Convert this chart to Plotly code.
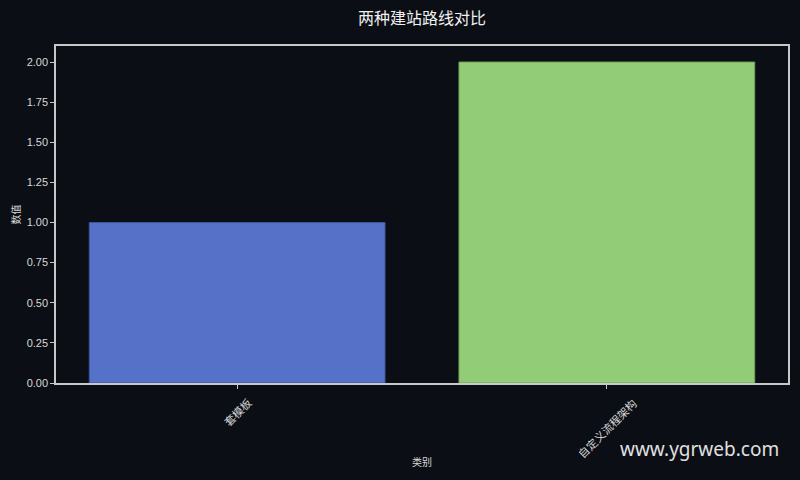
import plotly.graph_objects as go

# data
categories = ["套模板", "自定义流程架构"]
values = [1, 2]
bar_colors = ["#5672c8", "#93cc76"]
edge_colors = ["#3f559b", "#6fa257"]

bg = "#0b0e15"
fg = "#d8d8d8"
cjk = "Noto Sans CJK SC"

fig = go.Figure()

fig.add_trace(go.Bar(
    x=categories,
    y=values,
    width=0.8,
    marker=dict(color=bar_colors, line=dict(color=edge_colors, width=1)),
    showlegend=False
))

# rotated category labels, centred under the ticks (matplotlib style)
labels = [
    dict(text=c, x=c, xref="x", y=0, yref="paper", yshift=-9,
         xanchor="center", yanchor="top", textangle=-45, showarrow=False,
         font=dict(family=cjk, size=11, color=fg))
    for c in categories
]

fig.update_layout(
    width=800, height=480,
    paper_bgcolor=bg, plot_bgcolor=bg,
    margin=dict(l=56, r=12, t=46, b=97),
    font=dict(family="Liberation Sans, Arial, sans-serif", color=fg, size=11),
    title=dict(
        text="两种建站路线对比",
        x=0.5, xref="paper", xanchor="center",
        y=1 - 18 / 480, yanchor="middle",
        font=dict(family=cjk, size=16, color="#f0f0f0")
    ),
    xaxis=dict(
        range=[-0.49, 1.49],
        automargin=False,
        showticklabels=False,
        showline=True, linecolor="#c8c8c8", linewidth=1.5, mirror=True,
        ticks="outside", ticklen=4, tickcolor="#c8c8c8",
        showgrid=False, zeroline=False
    ),
    yaxis=dict(
        range=[0, 2.1],
        automargin=False,
        tickvals=[0, 0.25, 0.5, 0.75, 1.0, 1.25, 1.5, 1.75, 2.0],
        tickformat=".2f",
        showline=True, linecolor="#c8c8c8", linewidth=1.5, mirror=True,
        ticks="outside", ticklen=4, tickcolor="#c8c8c8",
        showgrid=False, zeroline=False
    ),
    annotations=labels + [
        dict(text="类别", xref="paper", yref="paper", x=0.5, y=-0.234,
             xanchor="center", yanchor="middle", showarrow=False,
             font=dict(family=cjk, size=10, color=fg)),
        dict(text="数值", xref="paper", yref="paper", x=-0.056, y=0.5,
             xanchor="center", yanchor="middle", textangle=-90,
             showarrow=False, font=dict(family=cjk, size=10, color=fg)),
        dict(text="www.ygrweb.com", xref="paper", yref="paper",
             x=0.99, y=-0.196, xanchor="right", yanchor="middle",
             showarrow=False,
             font=dict(family="Noto Sans", size=19, color="#e0e0e0"))
    ]
)

# drop the page margin so the figure sits at the window corner
fig.write_html(
    "out.html",
    config={"displayModeBar": False},
    post_script="document.body.style.margin='0';document.body.style.background='" + bg + "';"
)
